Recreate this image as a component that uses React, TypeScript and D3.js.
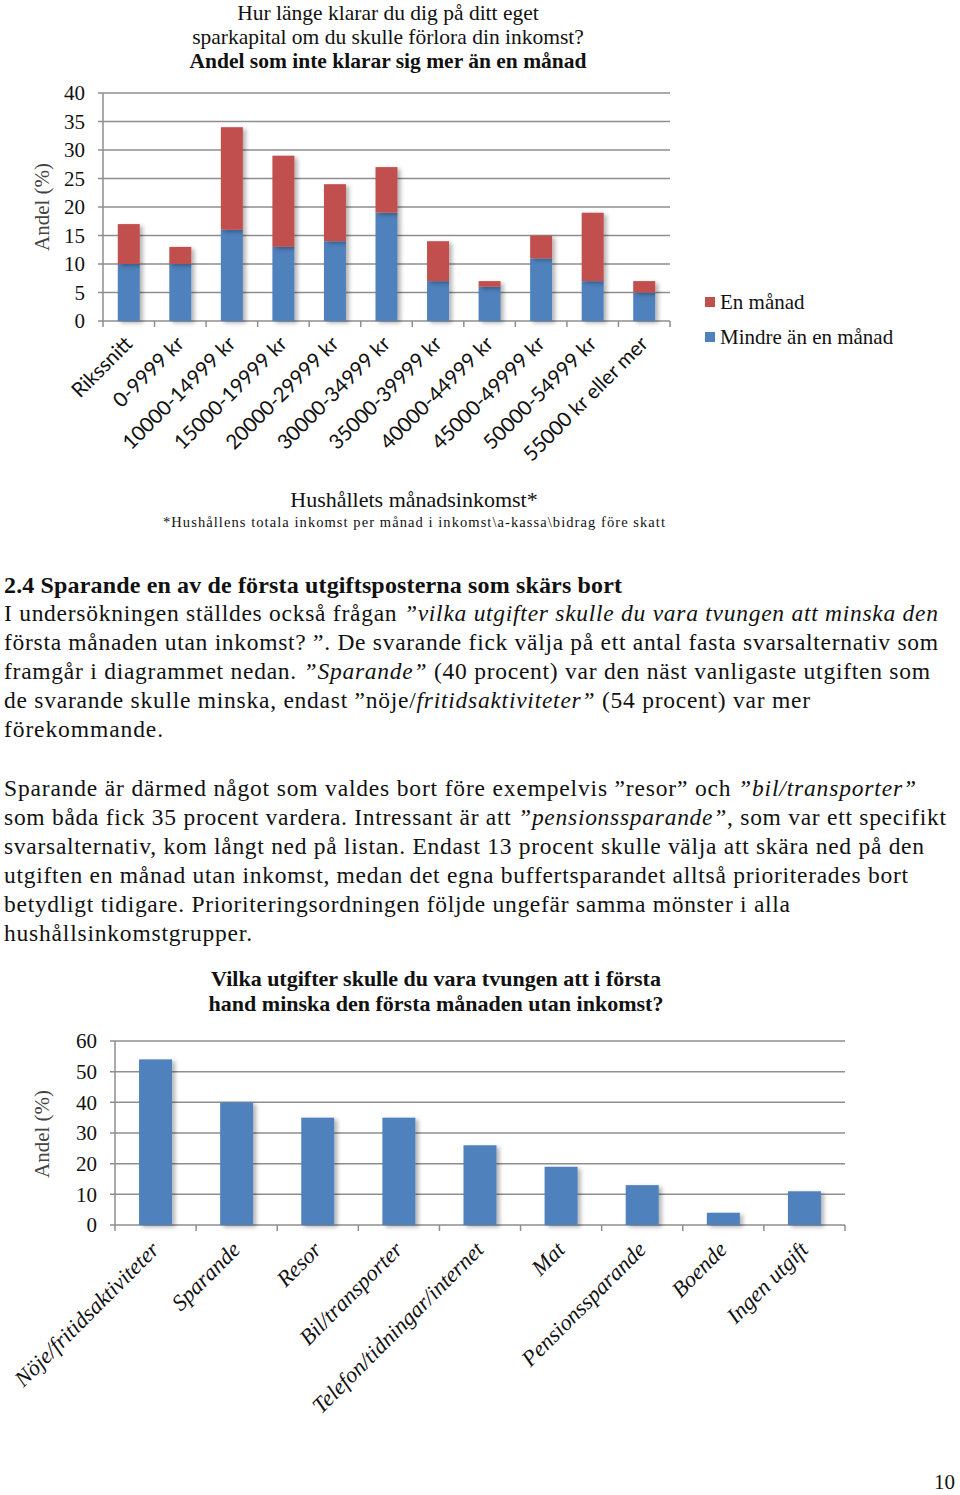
import React from "react";
import * as d3 from "d3";

// top chart: share that cannot manage more than one month
const incomeGroups = [
  "Rikssnitt",
  "0-9999 kr",
  "10000-14999 kr",
  "15000-19999 kr",
  "20000-29999 kr",
  "30000-34999 kr",
  "35000-39999 kr",
  "40000-44999 kr",
  "45000-49999 kr",
  "50000-54999 kr",
  "55000 kr eller mer",
];
const lessThanMonth = [10, 10, 16, 13, 14, 19, 7, 6, 11, 7, 5];
const oneMonth = [7, 3, 18, 16, 10, 8, 7, 1, 4, 12, 2];
const topTicks = [0, 5, 10, 15, 20, 25, 30, 35, 40];

// bottom chart: expenses cut first
const expenses = [
  "Nöje/fritidsaktiviteter",
  "Sparande",
  "Resor",
  "Bil/transporter",
  "Telefon/tidningar/internet",
  "Mat",
  "Pensionssparande",
  "Boende",
  "Ingen utgift",
];
const expenseValues = [54, 40, 35, 35, 26, 19, 13, 4, 11];
const bottomTicks = [0, 10, 20, 30, 40, 50, 60];

const BLUE = "#4F81BD";
const RED = "#C0504D";
const GRID = "#8e8e8e";
const SERIF = "'Liberation Serif', 'Times New Roman', serif";
const SANS = "Lato, 'Open Sans', sans-serif";

type Seg = [string, boolean];
const para1: { segs: Seg[]; w: number }[] = [
  { segs: [["I undersökningen ställdes också frågan ", false], ["”vilka utgifter skulle du vara tvungen att minska den", true]], w: 934 },
  { segs: [["första månaden utan inkomst? ”. De svarande fick välja på ett antal fasta svarsalternativ som", false]], w: 934 },
  { segs: [["framgår i diagrammet nedan. ", false], ["”Sparande”", true], [" (40 procent) var den näst vanligaste utgiften som", false]], w: 926 },
  { segs: [["de svarande skulle minska, endast ”nöje/", false], ["fritidsaktiviteter”", true], [" (54 procent) var mer", false]], w: 806 },
  { segs: [["förekommande.", false]], w: 159 },
];
const para2: { segs: Seg[]; w: number }[] = [
  { segs: [["Sparande är därmed något som valdes bort före exempelvis ”resor” och ", false], ["”bil/transporter”", true]], w: 912 },
  { segs: [["som båda fick 35 procent vardera. Intressant är att ", false], ["”pensionssparande”", true], [", som var ett specifikt", false]], w: 942 },
  { segs: [["svarsalternativ, kom långt ned på listan. Endast 13 procent skulle välja att skära ned på den", false]], w: 920 },
  { segs: [["utgiften en månad utan inkomst, medan det egna buffertsparandet alltså prioriterades bort", false]], w: 904 },
  { segs: [["betydligt tidigare. Prioriteringsordningen följde ungefär samma mönster i alla", false]], w: 786 },
  { segs: [["hushållsinkomstgrupper.", false]], w: 248 },
];

function Para({ lines, y0 }: { lines: { segs: Seg[]; w: number }[]; y0: number }) {
  return (
    <g>
      {lines.map((l, i) => (
        <text key={i} x={4} y={y0 + i * 29} fontSize={23.5} fontFamily={SERIF} textLength={l.w} lengthAdjust="spacing" fill="#111">
          {l.segs.map((s, j) => (
            <tspan key={j} fontStyle={s[1] ? "italic" : "normal"}>{s[0]}</tspan>
          ))}
        </text>
      ))}
    </g>
  );
}

function TopChart() {
  const left = 103, right = 670, top = 93, bottom = 321;
  const x = d3.scaleBand().domain(incomeGroups).range([left, right]);
  const y = d3.scaleLinear().domain([0, 40]).range([bottom, top]);
  const bw = 22;
  const stacked = d3.stack<number>().keys(["blue", "red"]).value((i, k) => (k === "blue" ? lessThanMonth[i] : oneMonth[i]))(d3.range(incomeGroups.length));
  const colors = [BLUE, RED];
  return (
    <g>
      <text textAnchor="middle" fontFamily={SERIF} fontSize={21.5} fill="#111">
        <tspan x={388} y={20}>Hur länge klarar du dig på ditt eget</tspan>
        <tspan x={388} y={44}>sparkapital om du skulle förlora din inkomst?</tspan>
        <tspan x={388} y={68} fontWeight="bold">Andel som inte klarar sig mer än en månad</tspan>
      </text>
      {topTicks.map((t) => (
        <g key={t}>
          <line x1={left - 5} x2={right} y1={y(t)} y2={y(t)} stroke={GRID} strokeWidth={1.5} />
          <text x={85} y={y(t)} dy="0.35em" textAnchor="end" fontFamily={SERIF} fontSize={21} fill="#111">{t}</text>
        </g>
      ))}
      <line x1={left} x2={left} y1={top} y2={bottom} stroke={GRID} strokeWidth={1.5} />
      {incomeGroups.map((g) => (
        <line key={g} x1={x(g)! + x.bandwidth()} x2={x(g)! + x.bandwidth()} y1={bottom} y2={bottom + 6} stroke={GRID} strokeWidth={1.5} />
      ))}
      <line x1={left} x2={left} y1={bottom} y2={bottom + 6} stroke={GRID} strokeWidth={1.5} />
      {stacked.map((layer, li) => (
        <g key={li} fill={colors[li]} filter="url(#shadow)">
          {layer.map((d, i) => (
            <rect key={i} x={x(incomeGroups[i])! + x.bandwidth() / 2 - bw / 2} y={y(d[1])} width={bw} height={y(d[0]) - y(d[1])} />
          ))}
        </g>
      ))}
      {incomeGroups.map((g) => (
        <text key={g} transform={`translate(${x(g)! + x.bandwidth() / 2 + 5},${bottom + 24}) rotate(-45)`} textAnchor="end" fontFamily={SANS} fontSize={20.5} fill="#111">{g}</text>
      ))}
      <text transform="translate(49,207) rotate(-90)" textAnchor="middle" fontFamily={SERIF} fontSize={21} fill="#444">Andel (%)</text>
      <text x={414} y={507} textAnchor="middle" fontFamily={SERIF} fontSize={22} fill="#111">Hushållets månadsinkomst*</text>
      <text x={163} y={527} fontFamily={SERIF} fontSize={14.5} textLength={502} lengthAdjust="spacing" fill="#111">*Hushållens totala inkomst per månad i inkomst\a-kassa\bidrag före skatt</text>
      <rect x={705} y={297} width={10} height={10} fill={RED} />
      <text x={720} y={309} fontFamily={SERIF} fontSize={21} fill="#111">En månad</text>
      <rect x={705} y={332} width={10} height={10} fill={BLUE} />
      <text x={720} y={344} fontFamily={SERIF} fontSize={21} fill="#111">Mindre än en månad</text>
    </g>
  );
}

function BottomChart() {
  const left = 115, right = 845, top = 1041, bottom = 1225;
  const x = d3.scaleBand().domain(expenses).range([left, right]);
  const y = d3.scaleLinear().domain([0, 60]).range([bottom, top]);
  const bw = 33;
  return (
    <g>
      <text textAnchor="middle" fontFamily={SERIF} fontSize={22} fontWeight="bold" fill="#111">
        <tspan x={436} y={986}>Vilka utgifter skulle du vara tvungen att i första</tspan>
        <tspan x={436} y={1011}>hand minska den första månaden utan inkomst?</tspan>
      </text>
      {bottomTicks.map((t) => (
        <g key={t}>
          <line x1={left - 5} x2={right} y1={y(t)} y2={y(t)} stroke={GRID} strokeWidth={1.5} />
          <text x={97} y={y(t)} dy="0.35em" textAnchor="end" fontFamily={SERIF} fontSize={21} fill="#111">{t}</text>
        </g>
      ))}
      <line x1={left} x2={left} y1={top} y2={bottom} stroke={GRID} strokeWidth={1.5} />
      <line x1={left} x2={left} y1={bottom} y2={bottom + 6} stroke={GRID} strokeWidth={1.5} />
      {expenses.map((e) => (
        <line key={e} x1={x(e)! + x.bandwidth()} x2={x(e)! + x.bandwidth()} y1={bottom} y2={bottom + 6} stroke={GRID} strokeWidth={1.5} />
      ))}
      <g fill={BLUE} filter="url(#shadow)">
        {expenses.map((e, i) => (
          <rect key={e} x={x(e)! + x.bandwidth() / 2 - bw / 2} y={y(expenseValues[i])} width={bw} height={bottom - y(expenseValues[i])} />
        ))}
      </g>
      {expenses.map((e) => (
        <text key={e} transform={`translate(${x(e)! + x.bandwidth() / 2 + 5},${bottom + 26}) rotate(-45)`} textAnchor="end" fontFamily={SERIF} fontStyle="italic" fontSize={22.5} fill="#111">{e}</text>
      ))}
      <text transform="translate(49,1134) rotate(-90)" textAnchor="middle" fontFamily={SERIF} fontSize={21} fill="#444">Andel (%)</text>
    </g>
  );
}

export default function App() {
  return (
    <svg width={960} height={1495} style={{ position: "absolute", left: 0, top: 0, background: "#fff" }}>
      <defs>
        <filter id="shadow" x="-20%" y="-10%" width="160%" height="130%">
          <feDropShadow dx={3} dy={2} stdDeviation={2} floodColor="#000" floodOpacity={0.3} />
        </filter>
      </defs>
      <rect width={960} height={1495} fill="#fff" />
      <TopChart />
      <text x={4} y={593} fontFamily={SERIF} fontSize={24} fontWeight="bold" textLength={618} lengthAdjust="spacing" fill="#111">2.4 Sparande en av de första utgiftsposterna som skärs bort</text>
      <Para lines={para1} y0={621} />
      <Para lines={para2} y0={796} />
      <BottomChart />
      <text x={955} y={1489} textAnchor="end" fontFamily={SERIF} fontSize={21} fill="#111">10</text>
    </svg>
  );
}
